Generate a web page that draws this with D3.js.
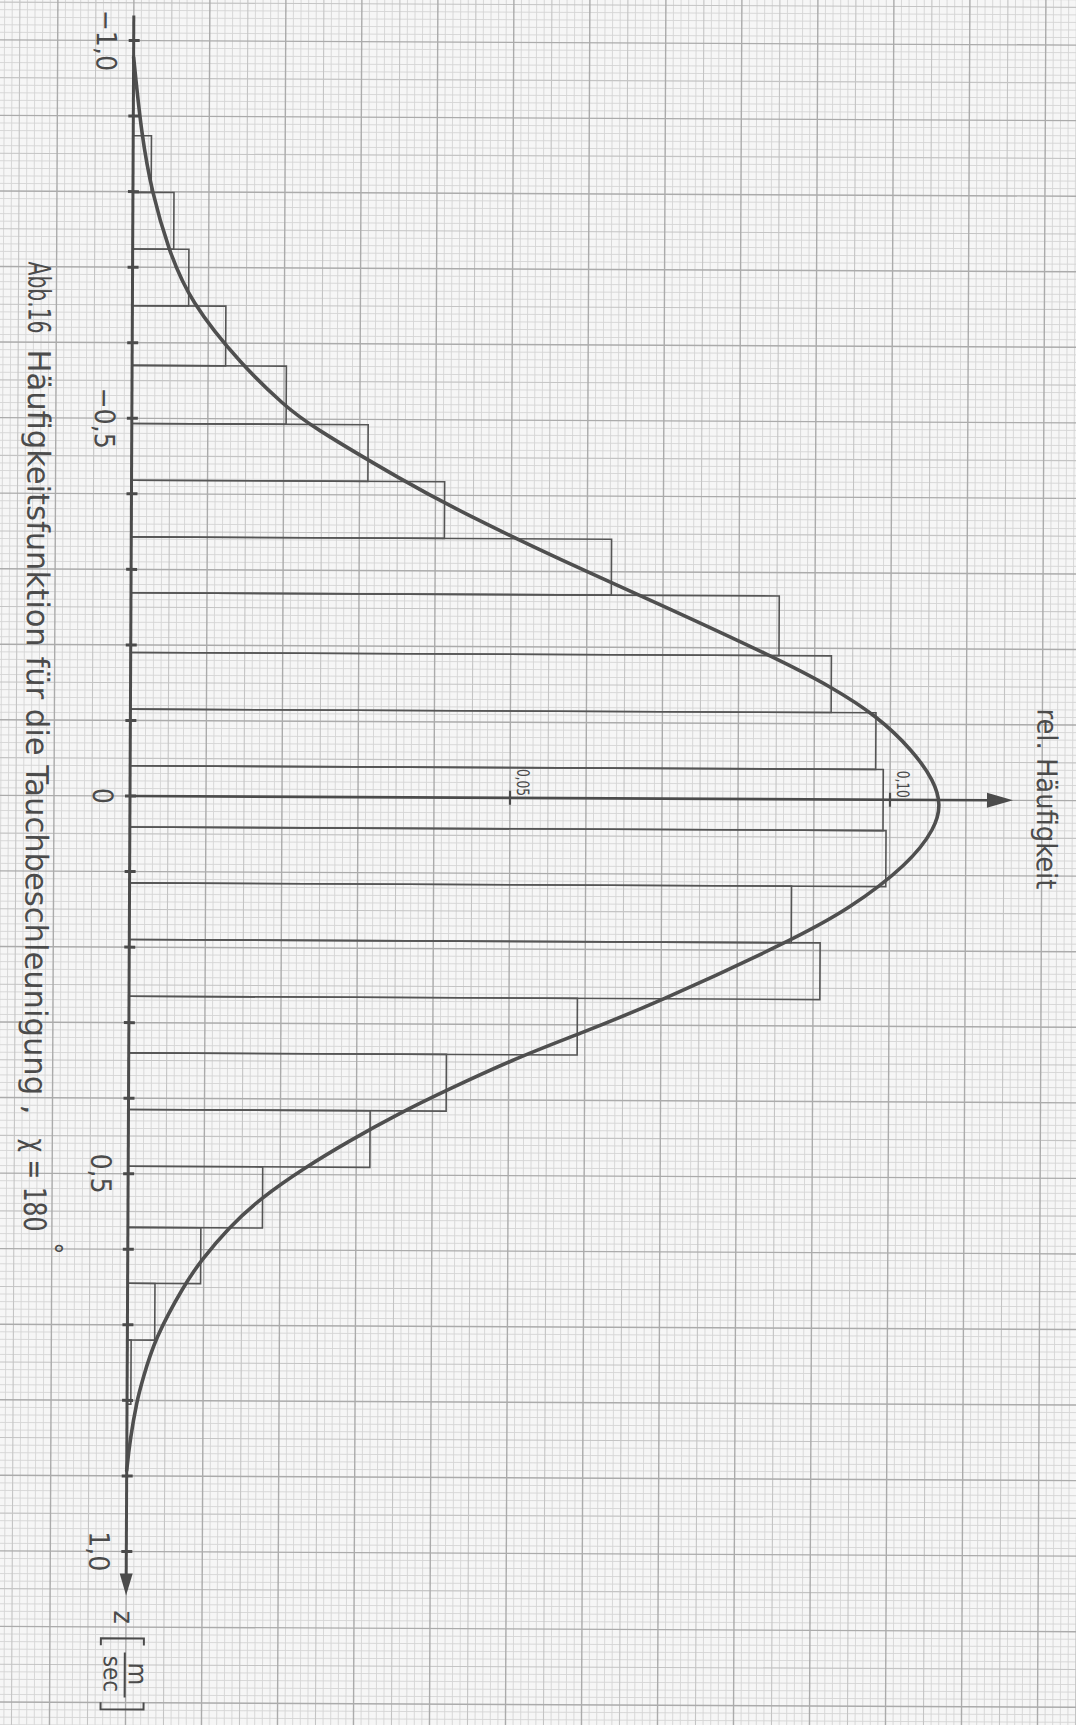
<!DOCTYPE html>
<html><head><meta charset="utf-8">
<script src="https://cdn.jsdelivr.net/npm/d3@7"></script>
<style>html,body{margin:0;padding:0;background:#f6f6f6;} svg{display:block}</style>
</head><body>
<svg id="c" width="1076" height="1725"></svg>
<script>
// ---- data ----
const binEdges = [-0.874,-0.799,-0.724,-0.649,-0.570,-0.493,-0.418,-0.343,-0.269,-0.190,-0.115,-0.040,0.041,0.115,0.190,0.265,0.340,0.415,0.490,0.571,0.645,0.720,0.805];
const relFreq  = [0.0024,0.0054,0.0074,0.0123,0.0203,0.0311,0.0412,0.0632,0.0853,0.0922,0.0981,0.0991,0.0995,0.0871,0.0909,0.0590,0.0418,0.0318,0.0177,0.0096,0.0036,0.0005];
const curveZ = [-0.978,-0.874,-0.799,-0.724,-0.656,-0.570,-0.517,-0.493,-0.418,-0.378,-0.312,-0.268,-0.186,-0.149,-0.111,-0.065,-0.025,0.006,0.037,0.085,0.145,0.187,0.271,0.313,0.343,0.388,0.419,0.456,0.491,0.531,0.571,0.615,0.646,0.718,0.774,0.800,0.853,0.893];
const curveF = [0,0.0011,0.0025,0.0047,0.0075,0.0145,0.0202,0.0232,0.0359,0.0434,0.0572,0.0672,0.0851,0.0922,0.0982,0.1030,0.1058,0.1067,0.1060,0.1025,0.0947,0.0871,0.0693,0.0590,0.0513,0.0417,0.0355,0.0289,0.0232,0.0175,0.0132,0.0096,0.0075,0.0036,0.0020,0.0013,0.0004,0];
const zTickValues = [-1.0,-0.9,-0.8,-0.7,-0.6,-0.5,-0.4,-0.3,-0.2,-0.1,0,0.1,0.2,0.3,0.4,0.5,0.6,0.7,0.8,0.9,1.0];
const zLabelValues = [-1.0,-0.5,0,0.5,1.0];
const zLabelTexts  = ["\u22121,0","\u22120,5","0","0,5","1,0"];
const fTickValues = [0.05,0.10];
const fTickTexts  = ["0,05","0,10"];
const titleParts = ["Abb.16","H\u00e4ufigkeitsfunktion f\u00fcr die Tauchbeschleunigung ,","\u03c7 = 180"];
const fAxisTitle = "rel. H\u00e4ufigkeit";

// ---- layout (landscape frame, rotated onto the page) ----
const ink = "#4b4b4b";
const font = "'Liberation Sans Narrow','DejaVu Sans Condensed','Open Sans',sans-serif";
const ox = 796, oy = 946;          // z = 0, f = 0
const cmZ = 75.55, cmF = 76;        // paper centimetre
const zScale = d3.scaleLinear().domain([-1,1]).range([ox-10*cmZ, ox+10*cmZ]);
const fScale = d3.scaleLinear().domain([0,0.1]).range([oy, oy-10*cmF]);

const svg = d3.select("#c");
svg.append("rect").attr("width",1076).attr("height",1725).attr("fill","#f6f6f6");
const root = svg.append("g").attr("transform","translate(1076,0) rotate(90)");
const g = root.append("g").attr("transform",`rotate(0.28,${ox},${oy})`);

// graph paper (mm grid)
const grid = g.append("g");
const xmin=-150,xmax=1880,ymin=-150,ymax=1230;
function gridLines(cls){
  const out=[];
  const i0=Math.floor((xmin-ox)/(cmZ/10)), i1=Math.ceil((xmax-ox)/(cmZ/10));
  for(let i=i0;i<=i1;i++){ if(cls(i)) out.push({x1:ox+i*cmZ/10,x2:ox+i*cmZ/10,y1:ymin,y2:ymax}); }
  const j0=Math.floor((ymin-oy)/(cmF/10)), j1=Math.ceil((ymax-oy)/(cmF/10));
  for(let j=j0;j<=j1;j++){ if(cls(j)) out.push({x1:xmin,x2:xmax,y1:oy+j*cmF/10,y2:oy+j*cmF/10}); }
  return out;
}
const layers = [
  {f:i=>i%5!==0, c:"#d5d5d5", w:0.9},
  {f:i=>i%5===0 && i%10!==0, c:"#c4c4c4", w:1.1},
  {f:i=>i%10===0, c:"#ababab", w:1.4}
];
layers.forEach(L=>{
  grid.append("g").selectAll("line").data(gridLines(L.f)).join("line")
    .attr("x1",d=>d.x1).attr("x2",d=>d.x2).attr("y1",d=>d.y1).attr("y2",d=>d.y2)
    .attr("stroke",L.c).attr("stroke-width",L.w);
});

// histogram bars
const bars = relFreq.map((v,i)=>({lo:binEdges[i],hi:binEdges[i+1],v}));
g.append("g").selectAll("rect").data(bars).join("rect")
  .attr("x",d=>zScale(d.lo)).attr("width",d=>zScale(d.hi)-zScale(d.lo))
  .attr("y",d=>fScale(d.v)).attr("height",d=>fScale(0)-fScale(d.v))
  .attr("fill","none").attr("stroke","#555").attr("stroke-width",1.6);

// fitted curve
const pts = curveZ.map((z,i)=>[z,curveF[i]]);
g.append("path").datum(pts)
  .attr("d",d3.line().x(d=>zScale(d[0])).y(d=>fScale(d[1])).curve(d3.curveBasis))
  .attr("fill","none").attr("stroke","#4f4f4f").attr("stroke-width",3.6).attr("stroke-linecap","round");

// z axis
g.append("line").attr("x1",zScale(-1)-25).attr("x2",zScale(1)+30).attr("y1",oy).attr("y2",oy)
  .attr("stroke",ink).attr("stroke-width",3);
const zTip = zScale(1)+44;
g.append("path").attr("d",`M${zTip},${oy}L${zTip-22},${oy-6.5}L${zTip-22},${oy+6.5}Z`).attr("fill",ink);
g.append("g").selectAll("line").data(zTickValues).join("line")
  .attr("x1",d=>zScale(d)).attr("x2",d=>zScale(d)).attr("y1",oy-6).attr("y2",oy+5)
  .attr("stroke",ink).attr("stroke-width",3);
g.append("g").selectAll("text").data(zLabelValues).join("text")
  .attr("x",d=>zScale(d)).attr("y",oy+37).attr("text-anchor","middle")
  .attr("font-family",font).attr("font-size",28).attr("fill",ink)
  .text((d,i)=>zLabelTexts[i]);

// f axis
g.append("line").attr("x1",ox).attr("x2",ox).attr("y1",oy).attr("y2",fScale(0.1)-100)
  .attr("stroke",ink).attr("stroke-width",2.6);
const fTip = fScale(0.1)-123;
g.append("path").attr("d",`M${ox},${fTip}L${ox-7.5},${fTip+26}L${ox+7.5},${fTip+26}Z`).attr("fill",ink);
g.append("g").selectAll("line").data(fTickValues).join("line")
  .attr("x1",ox-7).attr("x2",ox+7).attr("y1",d=>fScale(d)).attr("y2",d=>fScale(d))
  .attr("stroke",ink).attr("stroke-width",2.2);
g.append("g").selectAll("text").data(fTickValues).join("text")
  .attr("x",ox-2).attr("y",d=>fScale(d)-7).attr("text-anchor","end")
  .attr("font-family",font).attr("font-size",17).attr("fill",ink)
  .attr("textLength",27).attr("lengthAdjust","spacingAndGlyphs")
  .text((d,i)=>fTickTexts[i]);

// axis titles
g.append("text").attr("x",704).attr("y",39).attr("font-family",font).attr("font-size",28)
  .attr("fill",ink).attr("textLength",181).attr("lengthAdjust","spacingAndGlyphs").text(fAxisTitle);
g.append("text").attr("x",zScale(1)+59).attr("y",oy+12).attr("font-family",font).attr("font-size",28)
  .attr("fill",ink).text("z");
// unit [m / sec]
const ux0 = zScale(1)+87, ux1 = zScale(1)+158;
g.append("path").attr("d",`M${ux0+7},${oy-18}H${ux0}V${oy+25}H${ux0+7}M${ux1-7},${oy-18}H${ux1}V${oy+25}H${ux1-7}M${ux0+14},${oy+1}H${ux1-12}`)
  .attr("fill","none").attr("stroke",ink).attr("stroke-width",2);
g.append("text").attr("x",(ux0+ux1)/2).attr("y",oy-3).attr("text-anchor","middle")
  .attr("font-family",font).attr("font-size",26).attr("fill",ink).text("m");
g.append("text").attr("x",(ux0+ux1)/2).attr("y",oy+22).attr("text-anchor","middle")
  .attr("font-family",font).attr("font-size",24).attr("fill",ink).text("sec");

// caption
const capY = 1050;
const capX = [262,350,1139], capLen = [72,765,93];
g.append("g").selectAll("text").data(titleParts).join("text")
  .attr("x",(d,i)=>capX[i]).attr("y",capY).attr("textLength",(d,i)=>capLen[i]).attr("lengthAdjust","spacingAndGlyphs")
  .attr("font-family",font).attr("font-size",31).attr("fill",ink).text(d=>d);
g.append("text").attr("x",1243).attr("y",capY-20).attr("font-family",font).attr("font-size",26)
  .attr("fill",ink).text("\u00b0");
</script>
</body></html>
